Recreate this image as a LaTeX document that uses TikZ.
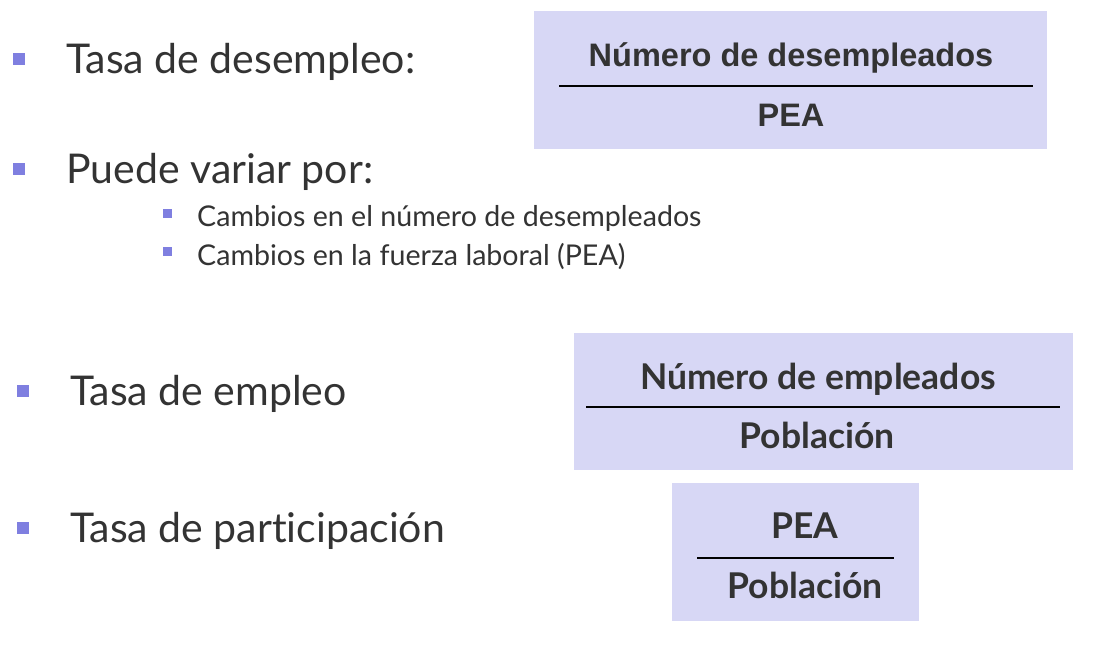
\documentclass[tikz,border=0pt]{standalone}
\usepackage{fontspec}
\setmainfont[Ligatures=NoCommon]{Lato}
\newfontfamily\arialfont{Liberation Sans}
\usetikzlibrary{positioning}
\definecolor{boxfill}{HTML}{D7D7F5}
\definecolor{bulletblue}{HTML}{7F7FE0}
\definecolor{textgray}{HTML}{333333}
\tikzset{fracbox/.style = {fill=boxfill, draw=none},
         bigbullet/.style = {fill=bulletblue, minimum size=12pt, inner sep=0pt},
         smallbullet/.style = {fill=bulletblue, minimum size=9pt, inner sep=0pt},
         item/.style = {anchor=base west, inner sep=0pt, text=textgray,
                        font=\fontsize{41}{46}\selectfont},
         subitem/.style = {anchor=base west, inner sep=0pt, text=textgray,
                           font=\fontsize{28.6}{32}\selectfont},
         frac/.style = {anchor=base, inner sep=0pt, text=textgray,
                        font=\fontsize{35.5}{40}\selectfont\bfseries},
         topfrac/.style = {frac, font=\fontsize{32.5}{38}\selectfont\bfseries\arialfont},
         bar/.style = {line width=1.6pt, black}}

\begin{document}
\begin{tikzpicture}[x=1pt, y=-1pt]
    \useasboundingbox (0, 0) rectangle (1110, 654);

    % tasa de desempleo
    \path [fracbox] (534, 11) rectangle (1047, 149);
    \node [topfrac] (unemp) at (791, 66) {Número de desempleados};
    \node [topfrac] (pea1) at (791, 126) {PEA};
    \coordinate (bar1a) at (559, 86);
    \coordinate (bar1b) at (1033, 86);
    \draw [bar] (bar1a) -- (bar1b);

    % tasa de empleo
    \path [fracbox] (574, 333) rectangle (1073, 470);
    \node [frac] (emp) at (818, 389) {Número de empleados};
    \node [frac] (pop1) at (817, 448) {Población};
    \coordinate (bar2a) at (586, 407);
    \coordinate (bar2b) at (1060, 407);
    \draw [bar] (bar2a) -- (bar2b);

    % tasa de participacion
    \path [fracbox] (672, 483) rectangle (919, 621);
    \node [frac] (pea2) at (805, 538) {PEA};
    \node [frac] (pop2) at (805, 598) {Población};
    \coordinate (bar3a) at (697, 558);
    \coordinate (bar3b) at (894, 558);
    \draw [bar] (bar3a) -- (bar3b);

    % items
    \node [bigbullet] (b1) at (19, 58.5) {};
    \node [item] (t1) at (66, 73) {Tasa de desempleo:};
    \node [bigbullet] (b2) at (19, 169) {};
    \node [item] (t2) at (66, 183) {Puede variar por:};
    \node [smallbullet] (s1) at (167, 213) {};
    \node [subitem] (u1) at (197, 226) {Cambios en el número de desempleados};
    \node [smallbullet] (s2) at (167, 251.5) {};
    \node [subitem] (u2) at (197, 265) {Cambios en la fuerza laboral (PEA)};
    \node [bigbullet] (b3) at (23, 390.5) {};
    \node [item] (t3) at (70, 405) {Tasa de empleo};
    \node [bigbullet] (b4) at (23, 527.5) {};
    \node [item] (t4) at (70, 542) {Tasa de participación};
\end{tikzpicture}
\end{document}
